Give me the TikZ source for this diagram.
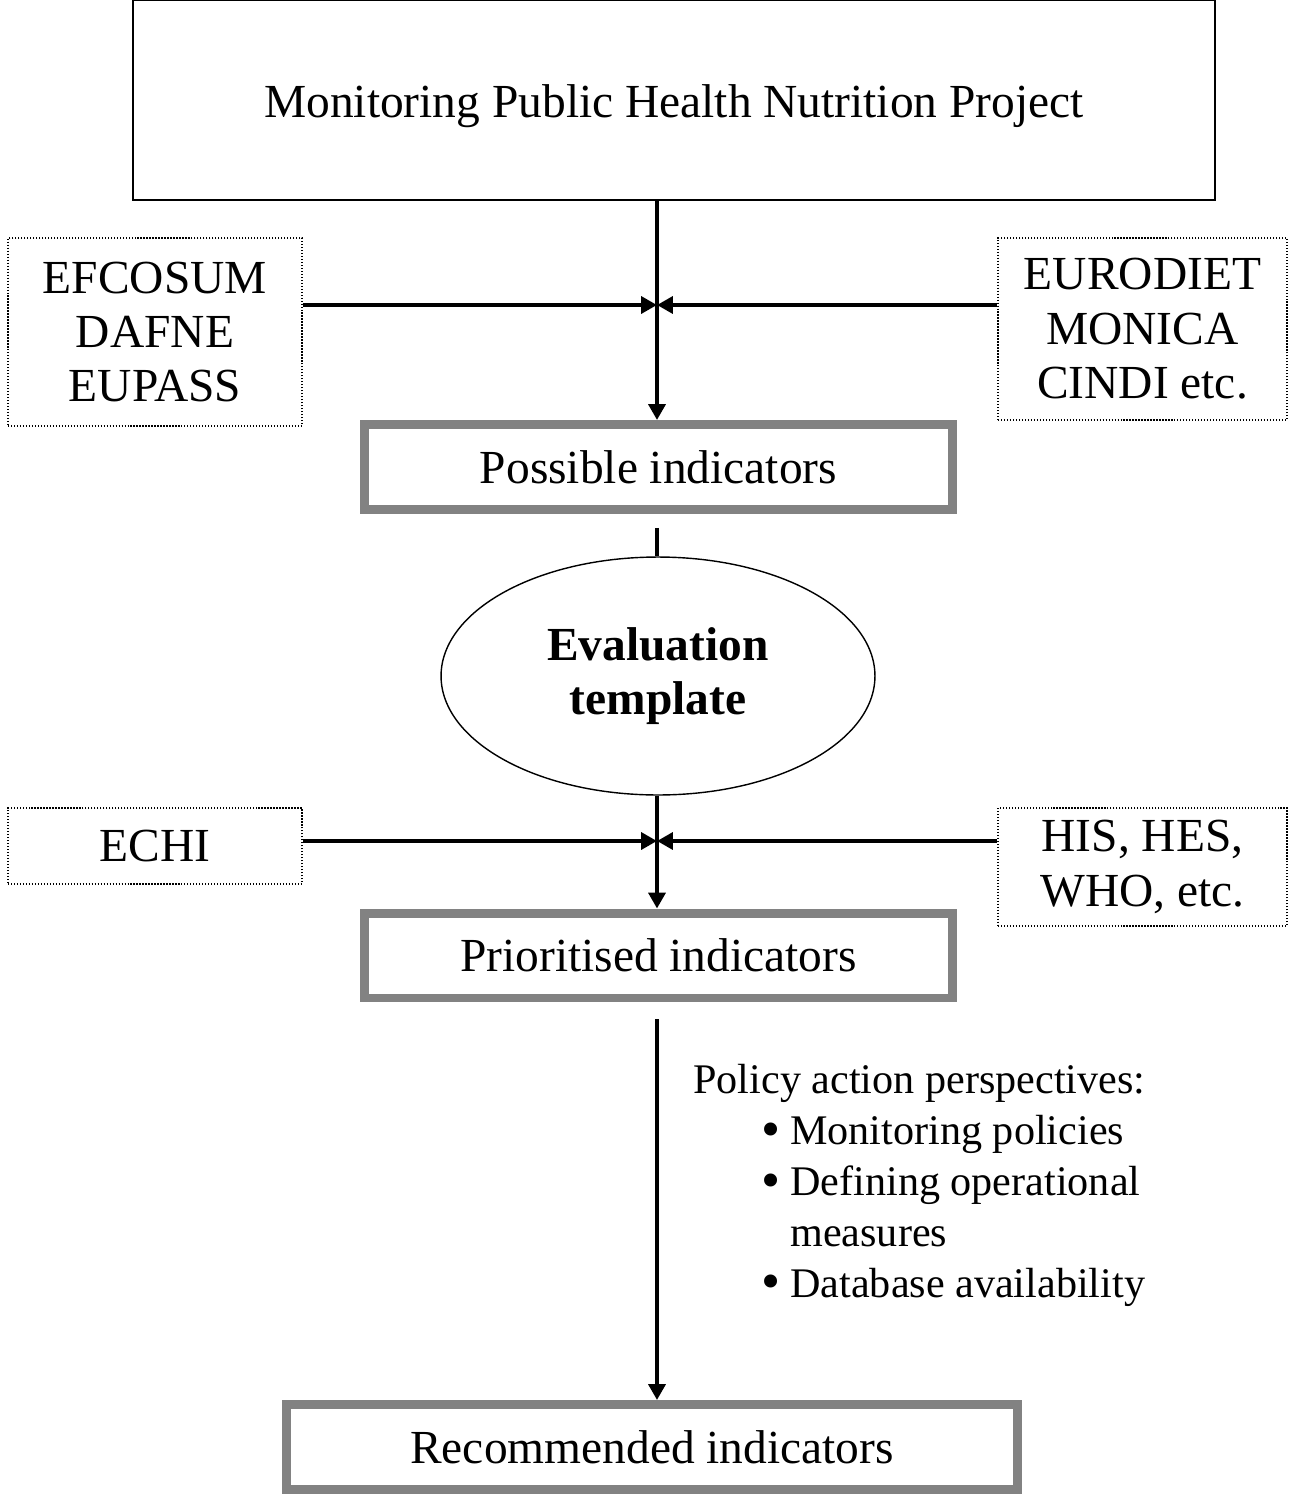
\documentclass[tikz,border=0pt]{standalone}
\usepackage{fontspec}
\setmainfont{Liberation Serif}
\usepackage{xcolor}
\usepackage{tikz}
\usetikzlibrary{shapes.geometric, arrows.meta, positioning, calc}
\definecolor{framegray}{RGB}{130, 130, 130}
\newcommand{\bitem}{\hspace*{1.36cm}\makebox[0.58cm][l]{{\fontsize{31}{29}\selectfont\raisebox{-0.05cm}{\textbullet}}}}

\begin{document}
\begin{tikzpicture}[
    x=0.02cm, y=-0.02cm,
    titlebox/.style={rectangle, draw=black, line width=1.1pt, minimum width=21.64cm, minimum height=4cm, align=center, font=\fontsize{27}{31}\selectfont},
    sourcebox/.style={rectangle, draw=black, densely dotted, line width=0.7pt, align=center, font=\fontsize{27}{31}\selectfont},
    resultbox/.style={rectangle, draw=framegray, line width=5.1pt, minimum width=11.76cm, minimum height=1.7cm, align=center, font=\fontsize{27}{31}\selectfont},
    evalnode/.style={ellipse, draw=black, line width=0.8pt, minimum width=8.68cm, minimum height=4.76cm, align=center, font=\fontsize{27}{31}\selectfont\bfseries},
    arrow/.style={-{Triangle[length=9pt, width=9.5pt]}, line width=2.3pt},
    plain/.style={line width=2.3pt}
]
    \useasboundingbox (0,0) rectangle (1295,1494);

    % Project
    \node[titlebox] (project) at (674, 100) {\raisebox{-0.36cm}[0pt][0pt]{Monitoring Public Health Nutrition Project}};

    % Sources, first stage
    \node[sourcebox, minimum width=5.88cm, minimum height=3.76cm] (efcosum) at (155, 332) {EFCOSUM\\DAFNE\\EUPASS};
    \node[sourcebox, minimum width=5.78cm, minimum height=3.64cm] (eurodiet) at (1142.5, 329) {EURODIET\\MONICA\\CINDI etc.};
    \node[resultbox] (possible) at (658.5, 467) {Possible indicators};

    % Evaluation
    \node[evalnode] (template) at (658, 676) {Evaluation\\template};

    % Sources, second stage
    \node[sourcebox, minimum width=5.88cm, minimum height=1.52cm] (echi) at (155, 846) {ECHI};
    \node[sourcebox, minimum width=5.78cm, minimum height=2.36cm] (his) at (1142.5, 867) {HIS, HES,\\WHO, etc.};
    \node[resultbox] (prioritised) at (658.5, 955.5) {Prioritised indicators};

    % Policy perspectives
    \node[anchor=north west, inner sep=0pt, align=left, font=\fontsize{24}{29}\selectfont] (policy) at (693, 1064) {Policy action perspectives:\\
        \bitem Monitoring policies\\
        \bitem Defining operational\\
        \hspace*{1.94cm}measures\\
        \bitem Database availability};

    \node[resultbox, minimum width=14.62cm] (recommended) at (652, 1447) {Recommended indicators};

    % Junctions on the main line
    \coordinate (join1) at (657, 305);
    \coordinate (join2) at (657, 841);

    % Main line
    \draw[arrow] (project.south -| join1) -- (possible.north -| join1);
    \draw[plain] ([yshift=-0.28cm]possible.south -| join1) -- (template.north -| join1);
    \draw[arrow] (template.south -| join1) -- (prioritised.north -| join1);
    \draw[arrow] ([yshift=-0.34cm]prioritised.south -| join1) -- (recommended.north -| join1);

    % Feeding arrows
    \draw[arrow] (efcosum.east |- join1) -- (join1);
    \draw[arrow] (eurodiet.west |- join1) -- (join1);
    \draw[arrow] (echi.east |- join2) -- (join2);
    \draw[arrow] (his.west |- join2) -- (join2);
\end{tikzpicture}
\end{document}
